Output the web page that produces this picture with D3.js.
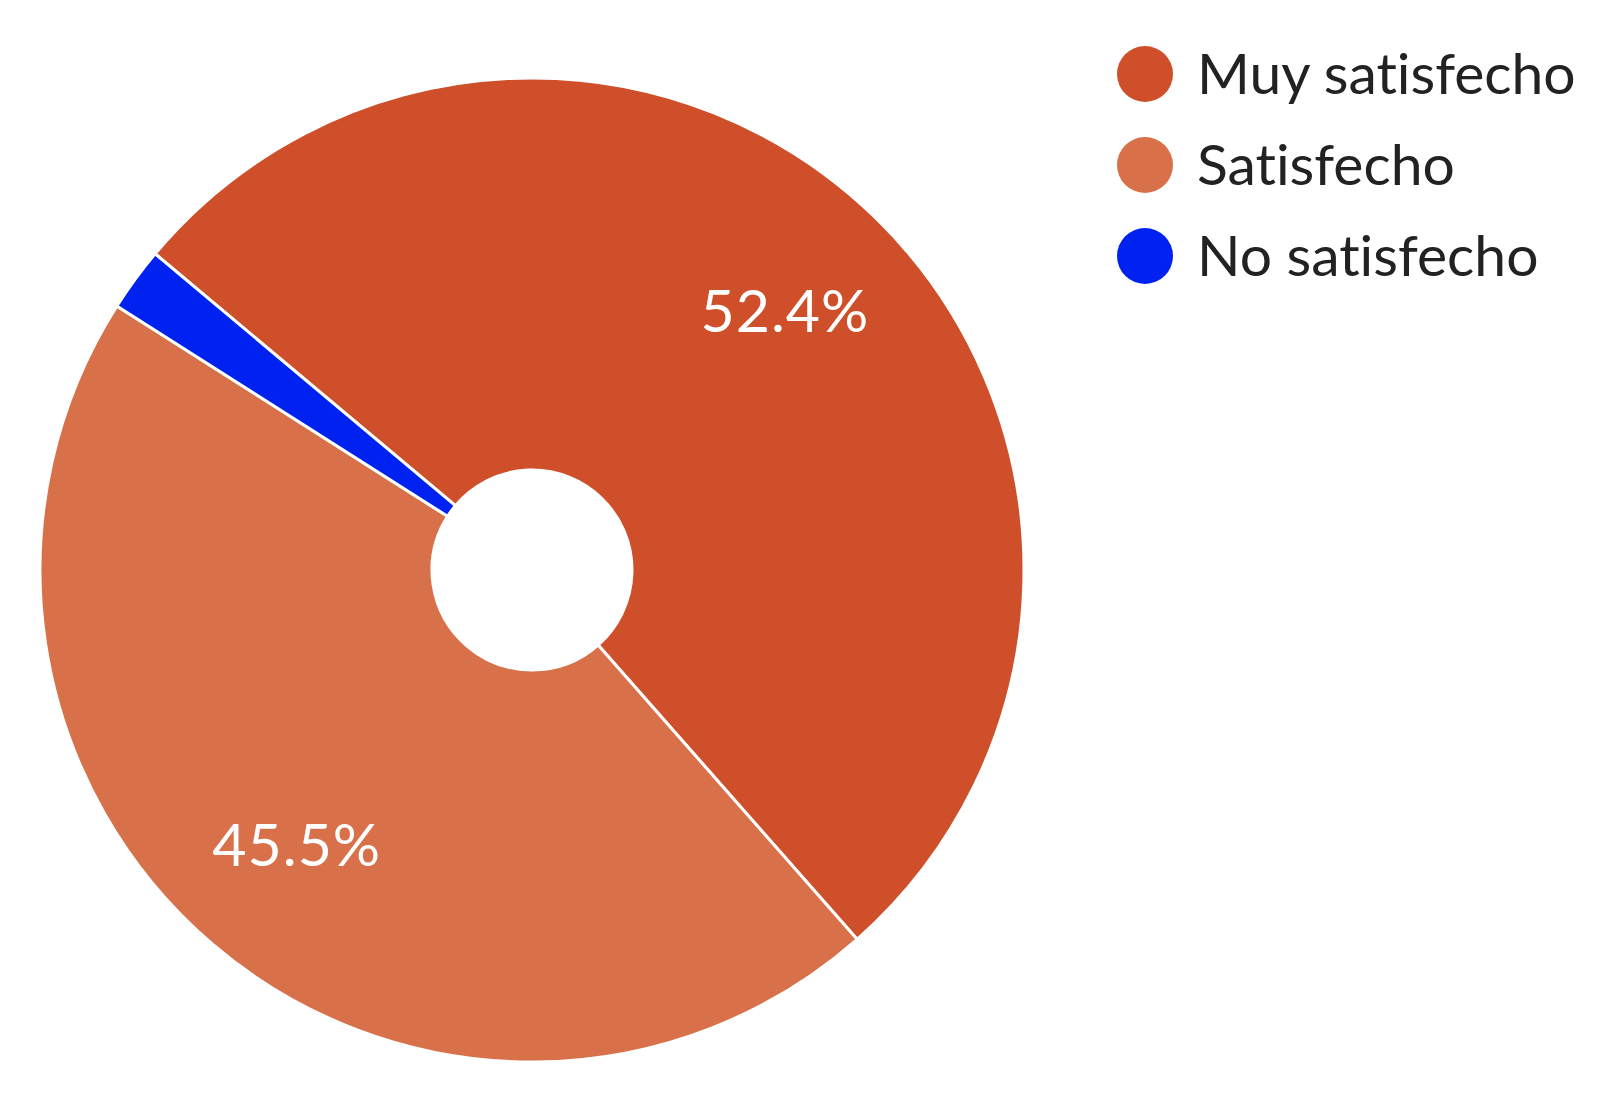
<!DOCTYPE html>
<html>
<head>
<meta charset="utf-8">
<script src="https://cdn.jsdelivr.net/npm/d3@7"></script>
<style>
  html, body { margin: 0; padding: 0; background: #ffffff; }
  svg { display: block; }
  text { font-variant-ligatures: none; font-feature-settings: "liga" 0, "clig" 0; }
</style>
</head>
<body>
<svg id="chart" width="1610" height="1102"></svg>
<script>
const categories = ["Muy satisfecho", "Satisfecho", "No satisfecho"];
const values = [52.4, 45.5, 2.1];
const labels = ["52.4%", "45.5%", ""];
const colors = ["#CE4F29", "#D8704A", "#0022F0"];

const svg = d3.select("#chart");
const cx = 532, cy = 570;
const outerR = 492, innerR = 100, labelR = 362;

const pie = d3.pie()
  .sort(null)
  .value(d => d.value)
  .startAngle(-50 * Math.PI / 180)
  .endAngle(310 * Math.PI / 180);

const data = categories.map((c, i) => ({ name: c, value: values[i], label: labels[i], color: colors[i] }));
const arcs = pie(data);

const arc = d3.arc().innerRadius(innerR).outerRadius(outerR);
const labelArc = d3.arc().innerRadius(labelR).outerRadius(labelR);

const g = svg.append("g").attr("transform", `translate(${cx},${cy})`);

g.selectAll("path.slice")
  .data(arcs)
  .join("path")
  .attr("class", "slice")
  .attr("d", arc)
  .attr("fill", d => d.data.color)
  .attr("stroke", "#ffffff")
  .attr("stroke-width", 3)
  .attr("stroke-linejoin", "round");

g.selectAll("text.lbl")
  .data(arcs.filter(d => d.data.label))
  .join("text")
  .attr("class", "lbl")
  .attr("transform", d => `translate(${labelArc.centroid(d)})`)
  .attr("text-anchor", "middle")
  .attr("dy", "0.35em")
  .attr("fill", "#ffffff")
  .style("font-family", "Lato, 'Open Sans', sans-serif")
  .style("font-size", "59px")
  .style("letter-spacing", "1px")
  .style("font-weight", 400)
  .text(d => d.data.label);

// Legend
const legendY = d3.scalePoint().domain(categories).range([74, 256]);
const legend = svg.append("g");
const items = legend.selectAll("g.item")
  .data(data)
  .join("g")
  .attr("class", "item")
  .attr("transform", d => `translate(0,${legendY(d.name)})`);

items.append("circle")
  .attr("cx", 1145)
  .attr("cy", 0)
  .attr("r", 28)
  .attr("fill", d => d.color);

items.append("text")
  .attr("x", 1197)
  .attr("y", 0)
  .attr("dy", "0.35em")
  .attr("fill", "#222222")
  .style("font-family", "Lato, 'Open Sans', sans-serif")
  .style("font-size", "57px")
  .style("font-weight", 400)
  .text(d => d.name);
</script>
</body>
</html>
